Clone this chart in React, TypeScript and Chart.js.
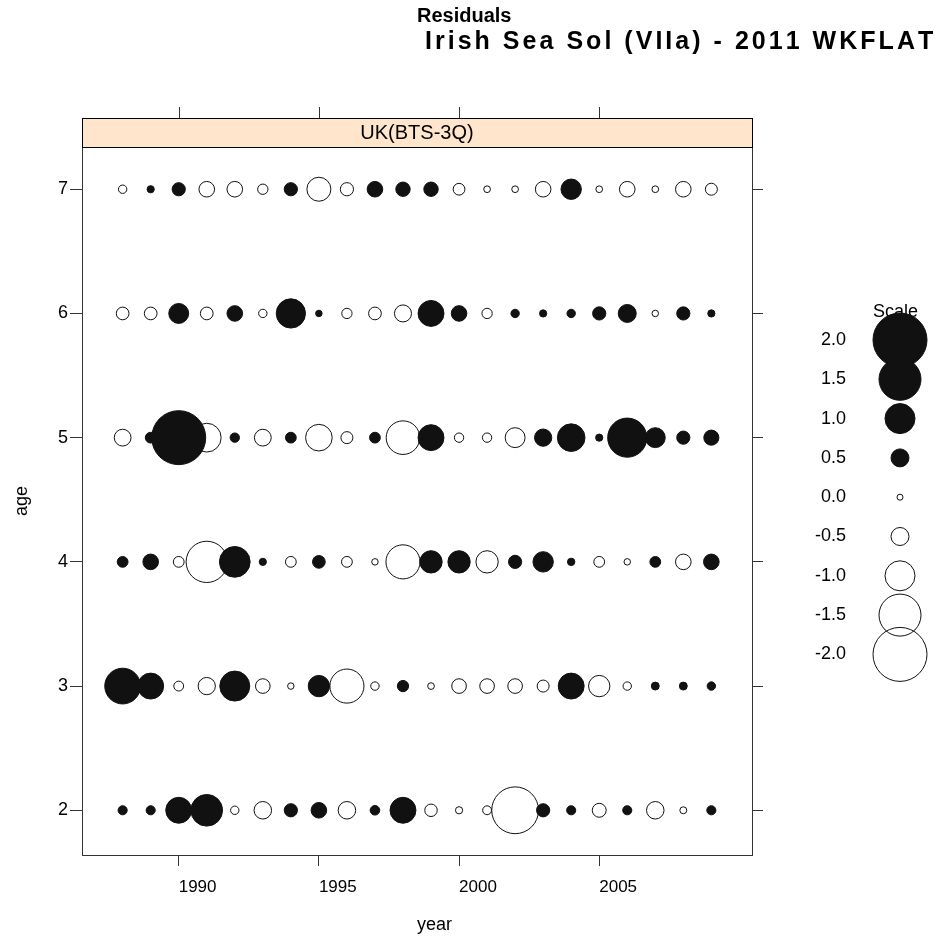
import React, { useEffect, useRef } from "react";
import { Chart, registerables } from "chart.js";

Chart.register(...registerables);

// ---------------- data ----------------
const YEARS = [1988, 1989, 1990, 1991, 1992, 1993, 1994, 1995, 1996, 1997, 1998, 1999, 2000, 2001, 2002, 2003, 2004, 2005, 2006, 2007, 2008, 2009];
const AGES = [2, 3, 4, 5, 6, 7];

const RES_AGE2 = [0.13, 0.13, 0.83, 1.07, -0.1, -0.48, 0.3, 0.4, -0.48, 0.15, 0.83, -0.27, -0.05, -0.12, -1.7, 0.3, 0.13, -0.33, 0.13, -0.48, -0.04, 0.13];
const RES_AGE3 = [1.24, 0.83, -0.16, -0.47, 1.0, -0.36, -0.02, 0.64, -1.17, -0.1, 0.22, -0.03, -0.36, -0.36, -0.36, -0.25, 0.83, -0.64, -0.1, 0.08, 0.08, 0.1];
const RES_AGE4 = [0.2, 0.4, -0.2, -1.47, 1.03, 0.05, -0.2, 0.28, -0.2, -0.02, -1.17, 0.68, 0.68, -0.68, 0.3, 0.6, 0.06, -0.2, -0.02, 0.2, -0.4, 0.4];
const RES_AGE5 = [-0.45, 0.2, 2.0, -0.95, 0.14, -0.45, 0.2, -0.86, -0.25, 0.2, -1.15, 0.83, -0.14, -0.14, -0.58, 0.47, 0.9, 0.05, 1.38, 0.58, 0.3, 0.38];
const RES_AGE6 = [-0.28, -0.28, 0.58, -0.28, 0.4, -0.1, 0.97, 0.02, -0.18, -0.28, -0.46, 0.83, 0.4, -0.18, 0.1, 0.05, 0.1, 0.3, 0.5, -0.02, 0.3, 0.05];
const RES_AGE7 = [-0.1, 0.05, 0.3, -0.4, -0.4, -0.18, 0.3, -0.75, -0.3, 0.4, 0.35, 0.35, -0.24, -0.03, -0.03, -0.4, 0.6, -0.03, -0.4, -0.03, -0.4, -0.25];

const RES_BY_AGE = [RES_AGE2, RES_AGE3, RES_AGE4, RES_AGE5, RES_AGE6, RES_AGE7];

const X_TICKS = [1990, 1995, 2000, 2005];
const SCALE_VALUES = [2.0, 1.5, 1.0, 0.5, 0.0, -0.5, -1.0, -1.5, -2.0];
const TITLE_LINES = ["Residuals", " Irish Sea Sol (VIIa) - 2011 WKFLAT"];
const STRIP_LABEL = "UK(BTS-3Q)";
const X_LABEL = "year";
const Y_LABEL = "age";
const SCALE_TITLE = "Scale";

// ---------------- styling / layout ----------------
const W = 942;
const H = 948;
const FONT = "'Liberation Sans', Arial, sans-serif";
const INK = "#111111";
const AXIS = "#333333";
const STRIP_BG = "#FFE5CC";
const TICK_LEN = 11;
const AREA = { left: 82, right: 752, top: 147, bottom: 855 };
const STRIP_H = 29;
const RIGHT_AXIS_W = 12;

const radiusFor = (v: number) => 3 + 12 * Math.abs(v);
const fmt = (v: number) => v.toFixed(1);

const points = AGES.flatMap((age, i) =>
  YEARS.map((year, j) => ({ x: year, y: age, r: radiusFor(RES_BY_AGE[i][j]), v: RES_BY_AGE[i][j] }))
);

function drawSpaced(ctx: CanvasRenderingContext2D, text: string, x: number, y: number, target: number) {
  const chars = Array.from(text);
  const natural = ctx.measureText(text).width;
  const extra = Math.max(0, (target - natural) / (chars.length - 1));
  let cx = x;
  for (const ch of chars) {
    ctx.fillText(ch, cx, y);
    cx += ctx.measureText(ch).width + extra;
  }
}

const decorations = {
  id: "decorations",
  beforeDraw(chart: any) {
    const ctx = chart.ctx;
    ctx.save();
    ctx.fillStyle = "#ffffff";
    ctx.fillRect(0, 0, chart.width, chart.height);
    ctx.restore();
  },
  afterDraw(chart: any) {
    const ctx = chart.ctx;
    const a = chart.chartArea;
    const xs = chart.scales.x;
    ctx.save();

    // panel box
    ctx.strokeStyle = AXIS;
    ctx.lineWidth = 1;
    ctx.strokeRect(a.left + 0.5, a.top + 0.5, a.right - a.left, a.bottom - a.top);

    // strip
    const sTop = a.top - STRIP_H;
    ctx.fillStyle = STRIP_BG;
    ctx.fillRect(a.left, sTop, a.right - a.left, STRIP_H);
    ctx.strokeStyle = "#000";
    ctx.strokeRect(a.left + 0.5, sTop + 0.5, a.right - a.left, STRIP_H);
    ctx.fillStyle = "#000";
    ctx.font = `20px ${FONT}`;
    ctx.textAlign = "center";
    ctx.textBaseline = "middle";
    ctx.fillText(STRIP_LABEL, (a.left + a.right) / 2, sTop + STRIP_H / 2 + 1);

    // top ticks
    ctx.strokeStyle = AXIS;
    ctx.beginPath();
    X_TICKS.forEach((t) => {
      const px = Math.round(xs.getPixelForValue(t)) + 0.5;
      ctx.moveTo(px, sTop - TICK_LEN);
      ctx.lineTo(px, sTop);
    });
    ctx.stroke();

    // title
    const cx = (a.left + a.right) / 2;
    ctx.fillStyle = "#000";
    ctx.textAlign = "left";
    ctx.textBaseline = "middle";
    ctx.font = `bold 20px ${FONT}`;
    ctx.fillText(TITLE_LINES[0], cx, 16);
    ctx.font = `bold 25px ${FONT}`;
    drawSpaced(ctx, TITLE_LINES[1], cx - 2, 42, W - 10 - cx);

    // axis titles
    ctx.font = `18px ${FONT}`;
    ctx.textAlign = "left";
    ctx.fillText(X_LABEL, cx, 925);
    ctx.save();
    ctx.translate(22, (a.top + a.bottom) / 2);
    ctx.rotate(-Math.PI / 2);
    ctx.textAlign = "center";
    ctx.fillText(Y_LABEL, 0, 0);
    ctx.restore();

    // scale legend
    const lx = 900;
    const ly0 = 340;
    const step = 39.3;
    ctx.font = `18px ${FONT}`;
    ctx.textAlign = "left";
    ctx.fillText(SCALE_TITLE, 873, 312);
    ctx.textAlign = "right";
    SCALE_VALUES.forEach((v, i) => {
      const y = ly0 + i * step;
      ctx.fillStyle = "#000";
      ctx.fillText(fmt(v), 846, y);
      ctx.beginPath();
      ctx.arc(lx, y, radiusFor(v), 0, Math.PI * 2);
      if (v > 0) {
        ctx.fillStyle = INK;
        ctx.fill();
      }
      ctx.strokeStyle = INK;
      ctx.lineWidth = 1;
      ctx.stroke();
    });

    ctx.restore();
  },
};

export default function App() {
  const ref = useRef<HTMLCanvasElement | null>(null);

  useEffect(() => {
    if (!ref.current) return;
    const chart = new Chart(ref.current, {
      type: "bubble",
      data: {
        datasets: [
          {
            data: points as any,
            backgroundColor: (c: any) => (c.raw && c.raw.v > 0 ? INK : "rgba(255,255,255,0)"),
            borderColor: INK,
            borderWidth: 1,
            clip: false as any,
          },
        ],
      },
      options: {
        animation: false,
        responsive: false,
        devicePixelRatio: 1,
        layout: {
          padding: { top: AREA.top, left: 0, bottom: 0, right: W - AREA.right - RIGHT_AXIS_W },
        },
        plugins: { legend: { display: false }, tooltip: { enabled: false } },
        scales: {
          x: {
            type: "linear",
            position: "bottom",
            min: 1986.55,
            max: 2010.45,
            afterBuildTicks: (s: any) => {
              s.ticks = X_TICKS.map((v) => ({ value: v }));
            },
            afterFit: (s: any) => {
              s.height = H - AREA.bottom;
            },
            grid: { drawOnChartArea: false, drawTicks: true, tickLength: TICK_LEN, color: AXIS },
            border: { display: true, color: AXIS },
            ticks: {
              align: "start",
              padding: 11,
              color: "#000",
              font: { family: FONT, size: 17 },
              callback: (v: any) => String(v),
              maxRotation: 0,
            },
          },
          y: {
            type: "linear",
            position: "left",
            min: 1.64,
            max: 7.34,
            afterBuildTicks: (s: any) => {
              s.ticks = AGES.map((v) => ({ value: v }));
            },
            afterFit: (s: any) => {
              s.width = AREA.left;
            },
            grid: { drawOnChartArea: false, drawTicks: true, tickLength: TICK_LEN + 1, color: AXIS },
            border: { display: true, color: AXIS },
            ticks: {
              padding: 2,
              color: "#000",
              font: { family: FONT, size: 18 },
              callback: (v: any) => String(v),
            },
          },
          y2: {
            type: "linear",
            position: "right",
            min: 1.64,
            max: 7.34,
            afterBuildTicks: (s: any) => {
              s.ticks = AGES.map((v) => ({ value: v }));
            },
            afterFit: (s: any) => {
              s.width = RIGHT_AXIS_W;
            },
            grid: { drawOnChartArea: false, drawTicks: true, tickLength: TICK_LEN, color: AXIS },
            border: { display: true, color: AXIS },
            ticks: { color: "rgba(0,0,0,0)", font: { family: FONT, size: 17 } },
          },
        },
      },
      plugins: [decorations],
    });
    return () => chart.destroy();
  }, []);

  return (
    <div style={{ position: "absolute", left: 0, top: 0, width: W, height: H, background: "#fff" }}>
      <canvas ref={ref} width={W} height={H} style={{ display: "block", width: W, height: H }} />
    </div>
  );
}
